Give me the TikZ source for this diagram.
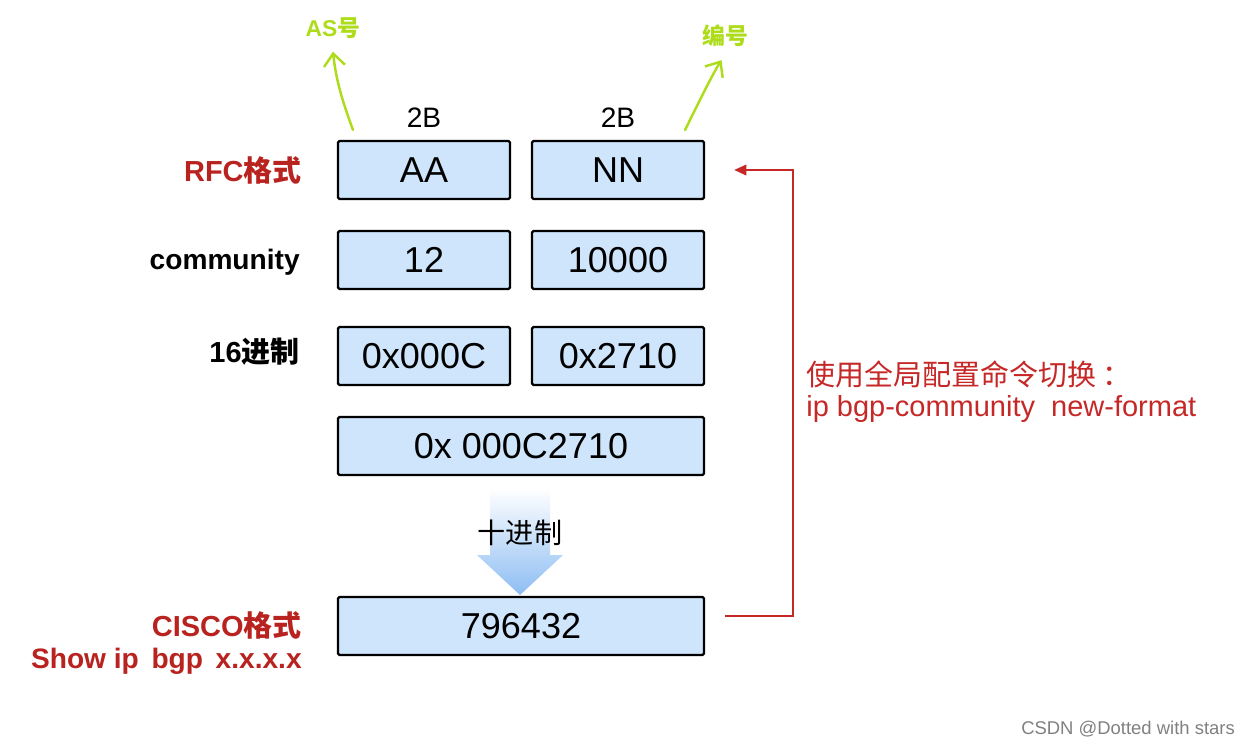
\documentclass[tikz,border=0pt]{standalone}
\usepackage{fontspec}
\setmainfont{Liberation Sans}
\newfontfamily\cjk{Noto Sans CJK SC}
\usetikzlibrary{arrows.meta, positioning}

\definecolor{boxblue}{HTML}{CFE5FB}
\definecolor{labelred}{HTML}{B8231F}
\definecolor{linered}{HTML}{C62828}
\definecolor{pengreen}{HTML}{ADDC1A}
\definecolor{arrowblue}{HTML}{8DBDF3}

\begin{document}
\begin{tikzpicture}[x=0.02cm, y=-0.02cm,
  field/.style={draw=black, line width=1.3pt, fill=boxblue, rounded corners=0.8pt,
    minimum width=3.44cm, minimum height=1.16cm, inner sep=0pt,
    font=\fontsize{20.5}{24}\selectfont},
  widefield/.style={field, minimum width=7.32cm},
  rowlabel/.style={anchor=east, inner sep=0pt, font=\fontsize{16.5}{19}\selectfont\bfseries},
  sizelabel/.style={font=\fontsize{16}{19}\selectfont},
  penlabel/.style={text=pengreen, font=\fontsize{13}{15}\selectfont\bfseries},
  pen/.style={pengreen, line width=1.4pt, line cap=round, -{Straight Barb[length=7pt, width=12pt]}},
  cmdtext/.style={anchor=west, inner sep=0pt, text=linered, font=\fontsize{16.5}{19}\selectfont}]

\useasboundingbox (0,0) rectangle (1256,746);

% Fields of the community value
\node[field] (aa) at (424,170) {AA};
\node[field] (nn) at (618,170) {NN};
\node[field] (dec1) at (424,260) {12};
\node[field] (dec2) at (618,260) {10000};
\node[field] (hex1) at (424,356) {0x000C};
\node[field] (hex2) at (618,356) {0x2710};
\node[widefield] (hexall) at (521,446) {0x 000C2710};
\node[widefield] (cisco) at (521,626) {796432};

% Byte sizes
\node[sizelabel] (size1) at (424,118) {2B};
\node[sizelabel] (size2) at (618,118) {2B};

% Row labels
\node[rowlabel, text=labelred] (rfc) at (302,170) {RFC{\cjk 格式}};
\node[rowlabel, font=\fontsize{16}{19}\selectfont\bfseries] (comm) at (300,262) {community};
\node[rowlabel] (hexlbl) at (300,352) {16{\cjk 进制}};
\node[rowlabel, text=labelred] (ciscolbl) at (302,625) {CISCO{\cjk 格式}};
\node[rowlabel, text=labelred, font=\fontsize{16}{19}\selectfont\bfseries] (showcmd) at (302,661)
  {Show ip\hspace{0.45em}bgp\hspace{0.45em}x.x.x.x};

% Big arrow down to the decimal value
\shade[top color=white, middle color=arrowblue!45, bottom color=arrowblue]
  (490,488) -- (550,488) -- (550,555) -- (563,555) -- (520,595)
  -- (477,555) -- (490,555) -- cycle;
\node[sizelabel] (decimal) at (520,533) {\cjk 十进制};

% Switch back to the RFC format
\draw[linered, line width=1.1pt, -{Triangle[length=7pt, width=6pt]}]
  ([xshift=0.4cm, yshift=0.2cm]cisco.east) -- ++(68,0) |- ([xshift=0.58cm]nn.east);
\node[cmdtext] (cmd1) at (806,374) {\cjk 使用全局配置命令切换\hspace{0.2em}：};
\node[cmdtext] (cmd2) at (806,409) {ip bgp-community\ \ new-format};

% Hand-written notes
\node[penlabel] (asnum) at (333,28) {AS{\cjk 号}};
\node[penlabel] (index) at (725,36) {\cjk 编号};
\coordinate (asfoot) at (353,130);
\coordinate (indexfoot) at (685,130);
\draw[pen] (asfoot) .. controls (342,100) and (336,80) .. ([yshift=-4pt]asnum.south);
\draw[pen] (indexfoot) .. controls (700,100) and (712,75) .. ([xshift=-2pt, yshift=-4pt]index.south);

% Watermark
\node[anchor=east, text=gray, font=\fontsize{10.5}{12}\selectfont] (mark) at (1241,729) {CSDN @Dotted with stars};

\end{tikzpicture}
\end{document}
